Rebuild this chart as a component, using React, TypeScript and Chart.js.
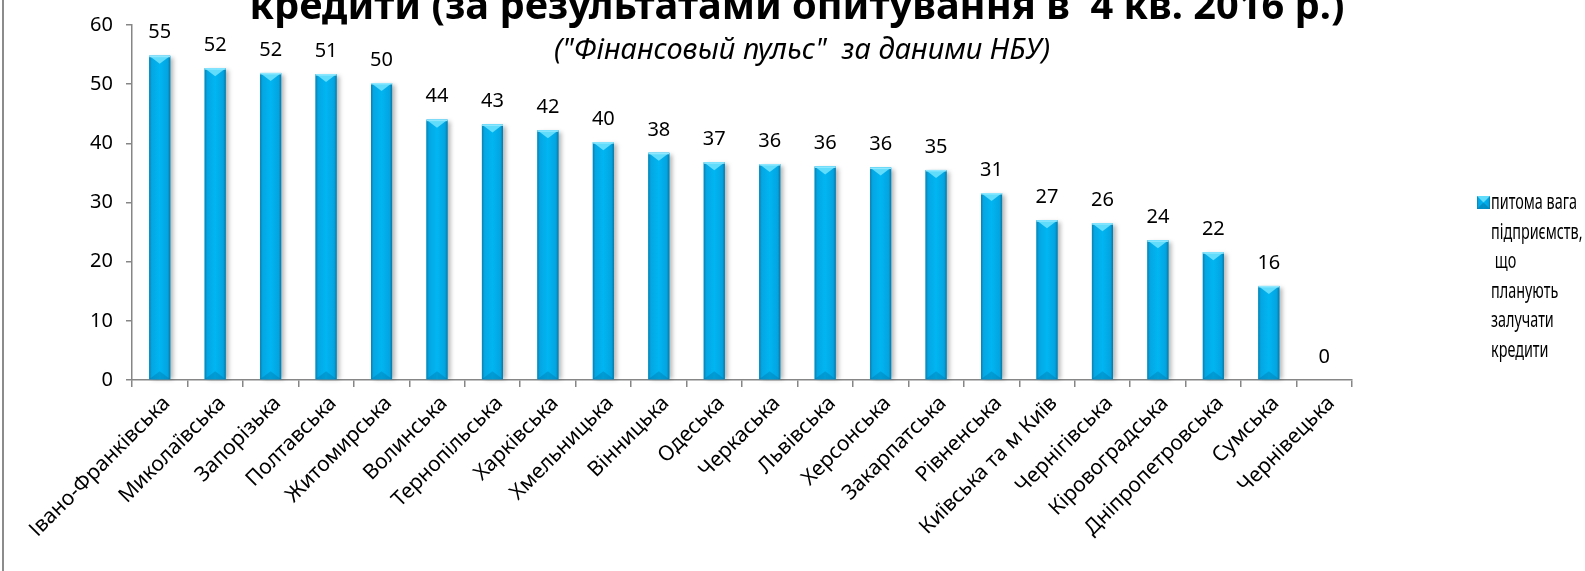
import React, { useEffect, useRef } from "react";
import { Chart, registerables } from "chart.js";

Chart.register(...registerables);

const categories = [
  "Івано-Франківська",
  "Миколаївська",
  "Запорізька",
  "Полтавська",
  "Житомирська",
  "Волинська",
  "Тернопільська",
  "Харківська",
  "Хмельницька",
  "Вінницька",
  "Одеська",
  "Черкаська",
  "Львівська",
  "Херсонська",
  "Закарпатська",
  "Рівненська",
  "Київська та м Київ",
  "Чернігівська",
  "Кіровоградська",
  "Дніпропетровська",
  "Сумська",
  "Чернівецька",
];
const values = [54.8, 52.7, 51.9, 51.7, 50.2, 44.0, 43.2, 42.2, 40.2, 38.4, 36.8, 36.5, 36.1, 35.9, 35.5, 31.6, 27.0, 26.5, 23.6, 21.6, 15.9, 0];
const valueLabels = ["55", "52", "52", "51", "50", "44", "43", "42", "40", "38", "37", "36", "36", "36", "35", "31", "27", "26", "24", "22", "16", "0"];
const yMin = 0;
const yMax = 60;
const yStep = 10;
const seriesName = "питома вага підприємств, що планують залучати кредити";
const legendLines = ["питома вага", "підприємств,", " що", "планують", "залучати", "кредити"];
const titleText = "кредити (за результатами опитування в  4 кв. 2016 р.)";
const subtitleText = "(\"Фінансовый пульс\"  за даними НБУ)";

const FONT = "'Noto Sans', 'DejaVu Sans', sans-serif";

export default function App() {
  const ref = useRef<HTMLCanvasElement>(null);

  useEffect(() => {
    document.body.style.margin = "0";
    const canvas = ref.current!;

    const barGradient = (ctx: CanvasRenderingContext2D, l: number, r: number) => {
      const g = ctx.createLinearGradient(l, 0, r, 0);
      g.addColorStop(0, "#0b7fae");
      g.addColorStop(0.12, "#04a6e2");
      g.addColorStop(0.5, "#00b6f2");
      g.addColorStop(0.88, "#03a4e0");
      g.addColorStop(1, "#0a77a3");
      return g;
    };

    const decor = {
      id: "decor",
      beforeDatasetsDraw(chart: any) {
        const ctx = chart.ctx as CanvasRenderingContext2D;
        const meta = chart.getDatasetMeta(0);
        ctx.save();
        ctx.filter = "blur(2px)";
        ctx.fillStyle = "rgba(0,0,0,0.28)";
        meta.data.forEach((el: any) => {
          const p = el.getProps(["x", "y", "base", "width"], true);
          const h = p.base - p.y;
          if (h <= 0.5) return;
          ctx.fillRect(p.x - p.width / 2 + 3, p.y + 2, p.width, h - 2);
        });
        ctx.restore();
      },
      afterDatasetsDraw(chart: any) {
        const ctx = chart.ctx as CanvasRenderingContext2D;
        const meta = chart.getDatasetMeta(0);
        ctx.save();
        meta.data.forEach((el: any, i: number) => {
          const p = el.getProps(["x", "y", "base", "width"], true);
          const l = p.x - p.width / 2;
          const r = p.x + p.width / 2;
          const h = p.base - p.y;
          if (h > 0.5) {
            ctx.fillStyle = barGradient(ctx, l, r);
            ctx.fillRect(l, p.y, p.width, h);
            const bev = Math.min(p.width * 0.38, h / 2);
            ctx.beginPath();
            ctx.moveTo(l, p.y);
            ctx.lineTo(r, p.y);
            ctx.lineTo(p.x, p.y + bev);
            ctx.closePath();
            ctx.fillStyle = "#62dcfb";
            ctx.fill();
            ctx.fillStyle = "#8fe8ff";
            ctx.fillRect(l, p.y, p.width, 1.5);
            ctx.beginPath();
            ctx.moveTo(l, p.base);
            ctx.lineTo(r, p.base);
            ctx.lineTo(p.x, p.base - bev);
            ctx.closePath();
            ctx.fillStyle = "rgba(0,110,160,0.35)";
            ctx.fill();
          }
          ctx.fillStyle = "#000";
          ctx.font = `20px ${FONT}`;
          ctx.textAlign = "center";
          ctx.textBaseline = "middle";
          ctx.fillText(valueLabels[i], p.x, p.y - 23);
        });
        ctx.restore();
      },
      afterDraw(chart: any) {
        const ctx = chart.ctx as CanvasRenderingContext2D;
        ctx.save();
        ctx.strokeStyle = "#8c8c8c";
        ctx.lineWidth = 2;
        ctx.beginPath();
        ctx.moveTo(3, 0);
        ctx.lineTo(3, 571);
        ctx.stroke();
        ctx.fillStyle = "#000";
        ctx.textAlign = "center";
        ctx.textBaseline = "alphabetic";
        ctx.font = `bold 40px ${FONT}`;
        ctx.fillText(titleText, 797, 19, 1095);
        ctx.font = `italic 29px ${FONT}`;
        ctx.fillText(subtitleText, 802, 59, 512);
        // legend
        const mx = 1477;
        const my = 196;
        const ms = 13;
        ctx.fillStyle = barGradient(ctx, mx, mx + ms);
        ctx.fillRect(mx, my, ms, ms);
        ctx.beginPath();
        ctx.moveTo(mx, my);
        ctx.lineTo(mx + ms, my);
        ctx.lineTo(mx + ms / 2, my + ms / 2);
        ctx.closePath();
        ctx.fillStyle = "#62dcfb";
        ctx.fill();
        ctx.beginPath();
        ctx.moveTo(mx, my + ms);
        ctx.lineTo(mx + ms, my + ms);
        ctx.lineTo(mx + ms / 2, my + ms / 2);
        ctx.closePath();
        ctx.fillStyle = "rgba(0,110,160,0.5)";
        ctx.fill();
        ctx.fillStyle = "#000";
        ctx.font = `21px ${FONT}`;
        ctx.textAlign = "left";
        ctx.textBaseline = "middle";
        const natural = ctx.measureText(legendLines[0]).width;
        const sx = Math.min(1, 86 / natural);
        ctx.translate(1491, 0);
        ctx.scale(sx, 1);
        legendLines.forEach((line, i) => {
          ctx.fillText(line, 0, 203 + i * 29.6, 92 / sx);
        });
        ctx.restore();
      },
    };

    const chart = new Chart(canvas, {
      type: "bar",
      data: {
        labels: categories,
        datasets: [
          {
            label: seriesName,
            data: values,
            backgroundColor: "#00b0f0",
            borderWidth: 0,
            categoryPercentage: 1,
            barPercentage: 0.38,
          },
        ],
      },
      options: {
        responsive: false,
        animation: false,
        layout: { padding: { top: 22, right: 233, left: 0, bottom: 0 } },
        plugins: {
          legend: { display: false },
          title: { display: false },
          tooltip: { enabled: false },
        },
        scales: {
          x: {
            grid: {
              display: true,
              drawOnChartArea: false,
              drawTicks: true,
              tickLength: 7,
              color: "#868686",
              lineWidth: 1.5,
              offset: true,
            },
            border: { color: "#868686", width: 1.5 },
            ticks: {
              color: "#000",
              font: { family: FONT, size: 21 },
              maxRotation: 45,
              minRotation: 45,
              autoSkip: false,
              padding: 4,
              labelOffset: 7,
            },
            afterFit: (s: any) => {
              s.height = 571 - 380;
            },
          },
          y: {
            min: yMin,
            max: yMax,
            ticks: {
              stepSize: yStep,
              color: "#000",
              font: { family: FONT, size: 20 },
              padding: 13,
            },
            grid: {
              display: true,
              drawOnChartArea: false,
              drawTicks: true,
              tickLength: 6,
              color: "#868686",
              lineWidth: 1.5,
            },
            border: { color: "#868686", width: 1.5 },
            afterFit: (s: any) => {
              s.width = 132;
            },
          },
        },
      },
      plugins: [decor],
    });

    return () => chart.destroy();
  }, []);

  return (
    <div style={{ position: "absolute", left: 0, top: 0, width: 1585, height: 571 }}>
      <canvas ref={ref} width={1585} height={571} style={{ display: "block" }} />
    </div>
  );
}
